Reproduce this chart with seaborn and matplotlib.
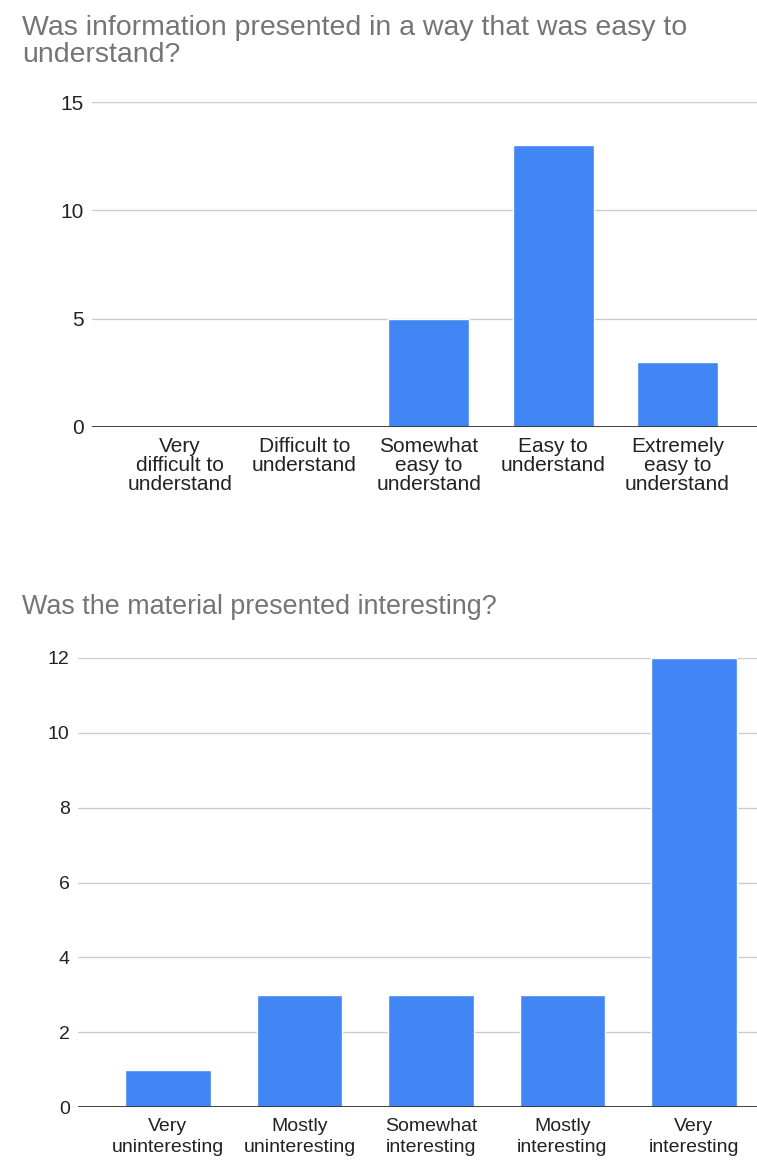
import matplotlib
matplotlib.use("Agg")
import matplotlib.pyplot as plt
import seaborn as sns

sns.set_theme(style="white")
plt.rcParams["font.family"] = ["Liberation Sans", "DejaVu Sans"]

# data
ease_labels = ["Very\ndifficult to\nunderstand", "Difficult to\nunderstand",
               "Somewhat\neasy to\nunderstand", "Easy to\nunderstand",
               "Extremely\neasy to\nunderstand"]
ease_counts = [0, 0, 5, 13, 3]

interest_labels = ["Very\nuninteresting", "Mostly\nuninteresting",
                   "Somewhat\ninteresting", "Mostly\ninteresting",
                   "Very\ninteresting"]
interest_counts = [1, 3, 3, 3, 12]

BLUE = "#4285F4"
W, H = 757, 1167

fig = plt.figure(figsize=(W / 100, H / 100), dpi=100)


def axes_px(left, top, right, bottom):
    return fig.add_axes([left / W, 1 - bottom / H, (right - left) / W, (bottom - top) / H])


def style(ax, labels, ticks, xlim, fs, ls, xpad):
    ax.set_xlim(*xlim)
    ax.set_yticks(ticks)
    ax.set_ylim(ticks[0], ticks[-1])
    ax.set_xticks(range(len(labels)))
    ax.set_xticklabels(labels, fontsize=fs, color="#222222", linespacing=ls)
    ax.tick_params(axis="y", labelsize=fs, labelcolor="#222222", length=0, pad=6)
    ax.tick_params(axis="x", length=0, pad=xpad)
    for s in ax.spines.values():
        s.set_visible(False)
    ax.yaxis.grid(True, color="#cccccc", linewidth=1)
    ax.set_axisbelow(True)
    ax.axhline(0, color="#333333", linewidth=1.3, zorder=3)
    ax.set_xlabel("")
    ax.set_ylabel("")


ax1 = axes_px(92, 102, 757, 427)
sns.barplot(x=ease_labels, y=ease_counts, color=BLUE, width=0.65, saturation=1, ax=ax1)
style(ax1, ease_labels, [0, 5, 10, 15], (-0.71, 4.64), 15, 1.0, 7)

ax2 = axes_px(78, 658, 757, 1107)
sns.barplot(x=interest_labels, y=interest_counts, color=BLUE, width=0.65, saturation=1, ax=ax2)
style(ax2, interest_labels, [0, 2, 4, 6, 8, 10, 12], (-0.684, 4.48), 14, 1.3, 8)

fig.text(22 / W, 1 - 15 / H, "Was information presented in a way that was easy to\nunderstand?",
         fontsize=20.5, color="#757575", va="top", ha="left", linespacing=1.05)
fig.text(22 / W, 1 - 594 / H, "Was the material presented interesting?",
         fontsize=19.4, color="#757575", va="top", ha="left")

fig.savefig("out.png", dpi=100)
